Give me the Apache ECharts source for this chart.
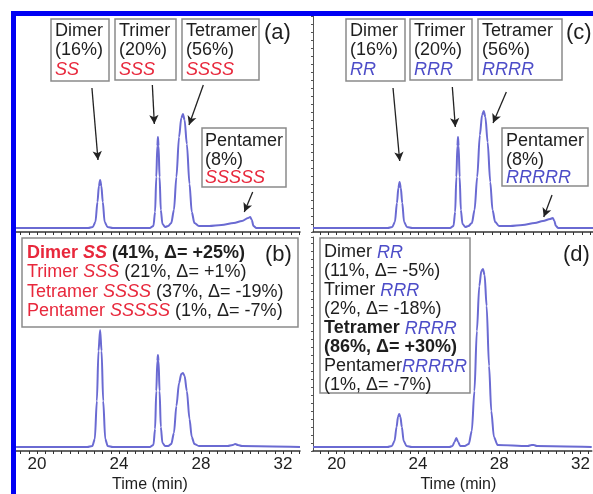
<!DOCTYPE html>
<html><head><meta charset="utf-8">
<script src="https://cdn.jsdelivr.net/npm/echarts@6/dist/echarts.min.js"></script>
<style>html,body{margin:0;padding:0;background:#fff}#c{width:593px;height:494px}</style>
</head><body><div id="c"></div>
<script>
// Chromatogram traces: [time (min), detector signal]
const traceA = [[18.98,4],[22.5,4],[22.72,5],[22.85,10],[22.95,30],[23.02,46],[23.08,52],[23.14,46],[23.21,30],[23.3,10],[23.44,5],[23.7,4],
[25.5,4],[25.68,6],[25.76,20],[25.82,55],[25.87,86],[25.9,95],[25.93,86],[25.98,55],[26.04,22],[26.12,8],[26.25,5],[26.4,6],
[26.55,9],[26.68,22],[26.8,55],[26.93,95],[27.04,114],[27.12,118],[27.2,112],[27.31,88],[27.44,48],[27.55,20],[27.68,9],[27.9,6],
[28.4,6],[29.0,7],[29.6,9],[30.0,11],[30.3,14],[30.4,15],[30.48,12],[30.56,6],[30.7,4],[32.83,4]];
const traceB = [[18.98,4],[22.45,4],[22.7,5],[22.82,12],[22.92,50],[23.0,100],[23.08,121],[23.15,100],[23.23,50],[23.33,12],[23.45,5],[23.7,4],
[25.5,4],[25.68,6],[25.76,22],[25.82,60],[25.87,90],[25.9,96],[25.93,90],[25.98,60],[26.04,24],[26.12,8],[26.25,5],[26.4,5],
[26.55,7],[26.68,18],[26.8,45],[26.93,68],[27.04,77],[27.12,78],[27.2,75],[27.31,60],[27.44,32],[27.55,14],[27.68,7],[27.9,5],
[29.3,5],[29.55,6],[29.67,7],[29.8,6],[30.0,5],[32.83,4]];
const traceC = [[18.84,4],[22.5,4],[22.72,5],[22.85,10],[22.95,29],[23.02,44],[23.08,50],[23.14,44],[23.21,29],[23.3,10],[23.44,5],[23.7,4],
[25.55,4],[25.72,6],[25.8,20],[25.86,55],[25.91,86],[25.94,95],[25.97,86],[26.02,55],[26.08,22],[26.16,8],[26.3,5],[26.45,6],
[26.62,9],[26.75,22],[26.88,55],[27.01,97],[27.12,117],[27.2,121],[27.28,115],[27.39,90],[27.52,50],[27.63,22],[27.76,10],[27.95,6],
[28.5,6],[29.1,7],[29.7,9],[30.1,11],[30.45,13],[30.58,14],[30.66,11],[30.73,6],[30.85,4],[32.55,4]];
const traceD = [[18.84,4],[22.5,4],[22.72,5],[22.85,10],[22.95,24],[23.02,34],[23.08,37],[23.14,34],[23.21,24],[23.3,10],[23.44,5],[23.7,4],
[25.55,4],[25.7,5],[25.8,9],[25.89,13],[25.98,9],[26.08,5],[26.3,5],[26.5,7],
[26.65,20],[26.78,60],[26.9,120],[27.02,165],[27.12,180],[27.2,182],[27.28,176],[27.38,145],[27.5,85],[27.61,40],[27.74,14],[27.92,6],
[29.4,5],[29.6,6],[29.7,6],[29.85,5],[32.55,4]];

// Tick labels
const majorTicks = [20, 24, 28, 32];
const minorTicks = [];
for (let i = 48; i <= 82; i++) minorTicks.push(+(i * 0.4).toFixed(1));

// Arrow annotations: [[fromTime, fromSignal], [toTime, toSignal]]
const arrowsA = [[[22.68,144],[22.976,72]], [[25.627,147],[25.725,108]], [[28.113,147],[27.415,107]], [[30.522,40],[30.112,20]]];
const arrowsC = [[[22.758,144],[23.086,71]], [[25.662,145],[25.809,105]], [[28.306,140],[27.655,109]], [[30.544,37],[30.138,15]]];

const FONT = '"Liberation Sans", Arial, sans-serif';
const RED = '#e8283c', BLUE = '#4d4dc8', INK = '#1e1e1e', TRACE = '#6a6ad2';

const chart = echarts.init(document.getElementById('c'), null, {renderer: 'canvas'});

function xAx(gi, min, max, labels) {
  return {
    type: 'value', gridIndex: gi, min: min, max: max,
    axisLine: {show: true, onZero: false, lineStyle: {color: '#333', width: 1.5}},
    axisTick: {show: true, customValues: minorTicks, length: 3, lineStyle: {color: '#333', width: 1}},
    axisLabel: {show: labels, customValues: majorTicks, fontSize: 17, color: INK, fontFamily: FONT, margin: 5},
    splitLine: {show: false},
    name: labels ? 'Time (min)' : '', nameLocation: 'middle', nameGap: 26,
    nameTextStyle: {fontSize: 16, color: INK, fontFamily: FONT, padding: gi === 1 ? [0, 16, 0, 0] : [0, 0, 0, 12]}
  };
}
function yAx(gi, h, show) {
  return {
    type: 'value', gridIndex: gi, min: 0, max: h, interval: 8,
    axisLine: {show: show, lineStyle: {color: '#555', width: 1}},
    axisTick: {show: show, length: 2, lineStyle: {color: '#555'}},
    axisLabel: {show: false}, splitLine: {show: false}
  };
}
function arrowLines(list) {
  return {
    silent: true, symbol: ['none', 'arrow'], symbolSize: [7, 9],
    label: {show: false}, lineStyle: {color: '#222', width: 1.3, type: 'solid'},
    emphasis: {disabled: true},
    data: list.map(a => [{coord: a[0]}, {coord: a[1]}])
  };
}
function trace(i, data, arrows) {
  const s = {type: 'line', xAxisIndex: i, yAxisIndex: i, data: data, showSymbol: false, smooth: 0.3, smoothMonotone: 'x',
    lineStyle: {color: TRACE, width: 2}, silent: true};
  if (arrows) s.markLine = arrowLines(arrows);
  return s;
}

function box(x, y, w, h) {
  return {type: 'rect', shape: {x: x, y: y, width: w, height: h}, style: {fill: '#fff', stroke: '#8a8a8a', lineWidth: 1.5}, z: 50};
}
const rich = {
  k: {fill: INK, fontSize: 18, fontFamily: FONT},
  kb: {fill: INK, fontSize: 18, fontFamily: FONT, fontWeight: 'bold'},
  r: {fill: RED, fontSize: 18, fontFamily: FONT},
  ri: {fill: RED, fontSize: 18, fontFamily: FONT, fontStyle: 'italic'},
  rb: {fill: RED, fontSize: 18, fontFamily: FONT, fontWeight: 'bold'},
  rbi: {fill: RED, fontSize: 18, fontFamily: FONT, fontWeight: 'bold', fontStyle: 'italic'},
  bi: {fill: BLUE, fontSize: 18, fontFamily: FONT, fontStyle: 'italic'}
};
function txt(x, y, text, lh) {
  const r = {};
  Object.keys(rich).forEach(k => { r[k] = Object.assign({lineHeight: lh}, rich[k]); });
  return {type: 'text', x: x, y: y, z: 60, style: {text: text, rich: r, verticalAlign: 'top', align: 'left'}};
}
function tag(x, y, t) {
  return {type: 'text', x: x, y: y, z: 60, style: {text: t, fill: INK, fontSize: 22, fontFamily: FONT, verticalAlign: 'middle', align: 'left'}};
}

const graphics = [
  box(51, 19, 58, 62), txt(55, 22, '{k|Dimer}\n{k|(16%)}\n{ri|SS}', 19),
  box(115, 19, 61, 61), txt(119, 22, '{k|Trimer}\n{k|(20%)}\n{ri|SSS}', 19),
  box(182, 19, 77, 61), txt(186, 22, '{k|Tetramer}\n{k|(56%)}\n{ri|SSSS}', 19),
  box(202, 128, 84, 59), txt(205, 132, '{k|Pentamer}\n{k|(8%)}\n{ri|SSSSS}', 18.5),
  tag(264, 33, '(a)'),
  box(346, 19, 59, 62), txt(350, 22, '{k|Dimer}\n{k|(16%)}\n{bi|RR}', 19),
  box(410, 19, 62, 61), txt(414, 22, '{k|Trimer}\n{k|(20%)}\n{bi|RRR}', 19),
  box(478, 19, 84, 61), txt(482, 22, '{k|Tetramer}\n{k|(56%)}\n{bi|RRRR}', 19),
  box(502, 128, 86, 58), txt(506, 132, '{k|Pentamer}\n{k|(8%)}\n{bi|RRRRR}', 18.5),
  tag(566, 33, '(c)'),
  box(22, 238, 276, 89),
  txt(27, 243, '{rb|Dimer }{rbi|SS}{kb| (41%, Δ= +25%)}\n{r|Trimer }{ri|SSS}{k| (21%, Δ= +1%)}\n{r|Tetramer }{ri|SSSS}{k| (37%, Δ= -19%)}\n{r|Pentamer }{ri|SSSSS}{k| (1%, Δ= -7%)}', 19.5),
  tag(265, 255, '(b)'),
  box(320, 238, 150, 155),
  txt(324, 243, '{k|Dimer }{bi|RR}\n{k|(11%, Δ= -5%)}\n{k|Trimer }{bi|RRR}\n{k|(2%, Δ= -18%)}\n{kb|Tetramer }{bi|RRRR}\n{kb|(86%, Δ= +30%)}\n{k|Pentamer}{bi|RRRRR}\n{k|(1%, Δ= -7%)}', 19),
  tag(563, 255, '(d)'),
  {type: 'rect', shape: {x: 0, y: 0, width: 593, height: 11}, style: {fill: '#fff'}, z: 90},
  {type: 'rect', shape: {x: 0, y: 0, width: 11, height: 494}, style: {fill: '#fff'}, z: 90},
  {type: 'rect', shape: {x: 11, y: 11, width: 582, height: 5}, style: {fill: '#0000f4'}, z: 95},
  {type: 'rect', shape: {x: 11, y: 11, width: 5, height: 483}, style: {fill: '#0000f4'}, z: 95}
];

chart.setOption({
  animation: false,
  backgroundColor: '#fff',
  grid: [
    {left: 16, top: 16, width: 284, height: 216},
    {left: 16, top: 237, width: 284, height: 214},
    {left: 313, top: 16, width: 280, height: 216},
    {left: 313, top: 237, width: 280, height: 214}
  ],
  xAxis: [xAx(0, 18.976, 32.83, false), xAx(1, 18.976, 32.83, true), xAx(2, 18.84, 32.55, false), xAx(3, 18.84, 32.55, true)],
  yAxis: [yAx(0, 216, false), yAx(1, 214, false), yAx(2, 216, true), yAx(3, 214, true)],
  series: [trace(0, traceA, arrowsA), trace(1, traceB), trace(2, traceC, arrowsC), trace(3, traceD)],
  graphic: graphics
});
</script></body></html>
